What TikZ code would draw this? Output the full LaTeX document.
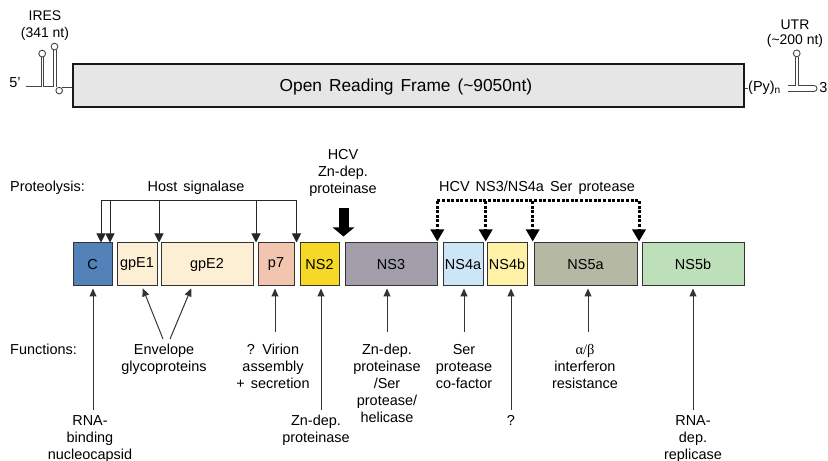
\documentclass[tikz,border=0pt]{standalone}
\usepackage{fontspec}
\setmainfont{Liberation Sans}
\newfontfamily\greekserif{Liberation Serif}
\usetikzlibrary{arrows.meta,calc}

\definecolor{boxline}{HTML}{333333}
\definecolor{rnaline}{HTML}{444444}
\definecolor{orffill}{HTML}{E6E6E6}
\definecolor{cC}{HTML}{5381B9}
\definecolor{cE}{HTML}{FDEFD4}
\definecolor{cP}{HTML}{F2C5AE}
\definecolor{cNSii}{HTML}{F5D924}
\definecolor{cNSiii}{HTML}{A29FAB}
\definecolor{cNSiva}{HTML}{CDE6F7}
\definecolor{cNSivb}{HTML}{FFF2A6}
\definecolor{cNSva}{HTML}{B5B8A3}
\definecolor{cNSvb}{HTML}{BDDFB9}

% fonts with slightly wide word spacing
\newcommand\lblfont{\fontsize{14.5}{17}\selectfont\spaceskip=0.42em plus 0.1em\relax}
\newcommand\orffont{\fontsize{17.4}{20}\selectfont\spaceskip=0.4em plus 0.1em\relax}

\begin{document}
\begin{tikzpicture}[x=1bp,y=-1bp,
  lbl/.style={font=\lblfont, inner sep=0pt, align=center},
  pbox/.style={draw=boxline, line width=1bp, minimum height=43bp, inner sep=0pt,
               font=\lblfont},
  sigline/.style={draw=black!85, line width=1bp},
  sig/.style={sigline, -{Triangle[width=9bp,length=9bp]}},
  serline/.style={draw=black, line width=3bp, dash pattern=on 3bp off 1.6bp},
  ser/.style={serline, -{Triangle[width=13bp,length=12bp]}},
  fun/.style={draw=black!80, line width=1bp, -{Triangle[width=7bp,length=8bp]}, shorten >=2bp},
  rna/.style={draw=rnaline, line width=0.9bp},
]
\useasboundingbox (0,0) rectangle (828,461);

% ---------------- genome ----------------
\node[draw=black!90, line width=1.3bp, fill=orffill, minimum width=671bp,
      minimum height=43bp, inner sep=0pt] (orf) at (408.5,85.5) {};
\node[anchor=base, inner sep=0pt, font=\orffont]
      (orftext) at (406,92) {Open Reading Frame (\char`\~9050nt)};

% 5' end with IRES stem-loops
\node[lbl, anchor=base] (five) at (15,88) {5'};
\node[lbl, anchor=north, font=\fontsize{14}{17.5}\selectfont] (ires) at (45,10.5) {IRES\\(341 nt)};
\draw[rna] (26,86) -- (41,86) -- (41,57);
\draw[rna] (43.5,57) -- (43.5,86) -- (53,86) -- (53,50);
\draw[rna] (56,50) -- (56,87.5);
\draw[rna] (62,87) -- (orf.west |- 0,87);
\draw[rna, fill=white] (42.2,53.6) circle (3.4bp);
\draw[rna, fill=white] (54.5,46.6) circle (3.4bp);
\draw[rna, fill=white] (59.2,90.6) circle (3.3bp);

% 3' end with poly-pyrimidine tract and UTR stem-loop
\draw[rna] (orf.east |- 0,88) -- (748,88);
\node[lbl, anchor=west] (py) at (748,88) {(Py)\textsubscript{n}};
\node[lbl, anchor=north, font=\fontsize{14}{15}\selectfont] (utr) at (795,19.7) {UTR\\(\char`\~200 nt)};
\draw[rna] (788,85.5) -- (795,85.5) -- (795,57);
\draw[rna] (798.5,57) -- (798.5,85.5) -- (814,85.5)
           arc[start angle=90, end angle=-90, radius=3bp] -- (788,91.5);
\draw[rna, fill=white] (796.7,53.4) circle (3.4bp);
\node[lbl, anchor=base] (three) at (823.5,93) {3};

% ---------------- polyprotein ----------------
\node[pbox, fill=cC,     minimum width=39bp]  (C)    at (92.5,264.5)  {C};
\node[pbox, fill=cE,     minimum width=40bp]  (E1)   at (137,264.5)   {gpE1};
\node[pbox, fill=cE,     minimum width=92bp]  (E2)   at (207,264.5)   {gpE2};
\node[pbox, fill=cP,     minimum width=36bp]  (p7)   at (276,264.5)   {p7};
\node[pbox, fill=cNSii,  minimum width=39bp]  (NS2)  at (319.5,264.5) {NS2};
\node[pbox, fill=cNSiii, minimum width=92bp]  (NS3)  at (391,264.5)   {NS3};
\node[pbox, fill=cNSiva, minimum width=40bp]  (NS4a) at (463,264.5)   {NS4a};
\node[pbox, fill=cNSivb, minimum width=40bp]  (NS4b) at (507,264.5)   {NS4b};
\node[pbox, fill=cNSva,  minimum width=103bp] (NS5a) at (585.5,264.5) {NS5a};
\node[pbox, fill=cNSvb,  minimum width=102bp] (NS5b) at (693,264.5)   {NS5b};

% ---------------- proteolysis ----------------
\node[lbl, anchor=base west] (proteo) at (10,192) {Proteolysis:};
\node[lbl, anchor=base] (hostsig) at (196,192) {Host signalase};
\node[lbl, anchor=north] (znprot) at (343,149) {HCV\\Zn-dep.\\proteinase};
\node[lbl, anchor=base] (serprot) at (537,192) {HCV NS3/NS4a Ser protease};

% host signalase cleavage sites
\coordinate (h1) at (101,201);
\coordinate (h2) at (110,201);
\coordinate (h3) at (159,201);
\coordinate (h4) at (256,201);
\coordinate (h5) at (296.5,201);
\draw[sigline] (h1) -- (h5);
\foreach \h in {h1,h2,h3,h4,h5}
  \draw[sig] (\h) -- (\h |- C.north);

% NS2 autocleavage
\coordinate (zn) at (343.5,208);
\draw[line width=10bp, -{Triangle[width=21bp,length=9bp]}, shorten >=6bp] (zn) -- (zn |- NS3.north);

% NS3/NS4a serine protease cleavage sites
\coordinate (s1) at (437.3,201);
\coordinate (s2) at (485.7,201);
\coordinate (s3) at (532.7,201);
\coordinate (s4) at (639,201);
\draw[serline] (s1) -- (s4);
\foreach \s in {s1,s2,s3,s4}
  \draw[ser] (\s) -- ($(\s |- NS4a.north)+(0,-1)$);

% ---------------- functions ----------------
\node[lbl, anchor=base west] (funcs) at (10,355) {Functions:};

\node[lbl, anchor=north] (fC)    at (90,415)  {RNA-\\binding\\nucleocapsid};
\node[lbl, anchor=north] (fE)    at (164,344) {Envelope\\glycoproteins};
\node[lbl, anchor=north] (fp7)   at (273,344) {? Virion\\assembly\\+ secretion};
\node[lbl, anchor=north] (fNS2)  at (316,415) {Zn-dep.\\proteinase};
\node[lbl, anchor=north] (fNS3)  at (387,344) {Zn-dep.\\proteinase\\/Ser\\protease/\\helicase};
\node[lbl, anchor=north] (fNS4a) at (464,344) {Ser\\protease\\co-factor};
\node[lbl, anchor=north] (fNS4b) at (511,415) {?};
\node[lbl, anchor=north] (fNS5a) at (585,344) {{\greekserif α/β}\\interferon\\resistance};
\node[lbl, anchor=north] (fNS5b) at (693,415) {RNA-\\dep.\\replicase};

\coordinate (aC)    at (93,410);
\coordinate (aE1)   at (163,339);
\coordinate (aE2)   at (170,339);
\coordinate (ap7)   at (275,332);
\coordinate (aNS2)  at (321,410);
\coordinate (aNS3)  at (387,332);
\coordinate (aNS4a) at (464,332);
\coordinate (aNS4b) at (511,410);
\coordinate (aNS5a) at (588,332);
\coordinate (aNS5b) at (693,410);

\draw[fun] (aC) -- (aC |- C.south);
\draw[fun] (aE1) -- (E1.south -| 142,0);
\draw[fun] (aE2) -- (E2.south -| 192,0);
\draw[fun] (ap7) -- (ap7 |- p7.south);
\draw[fun] (aNS2) -- (aNS2 |- NS2.south);
\draw[fun] (aNS3) -- (aNS3 |- NS3.south);
\draw[fun] (aNS4a) -- (aNS4a |- NS4a.south);
\draw[fun] (aNS4b) -- (aNS4b |- NS4b.south);
\draw[fun] (aNS5a) -- (aNS5a |- NS5a.south);
\draw[fun] (aNS5b) -- (aNS5b |- NS5b.south);
\end{tikzpicture}
\end{document}
